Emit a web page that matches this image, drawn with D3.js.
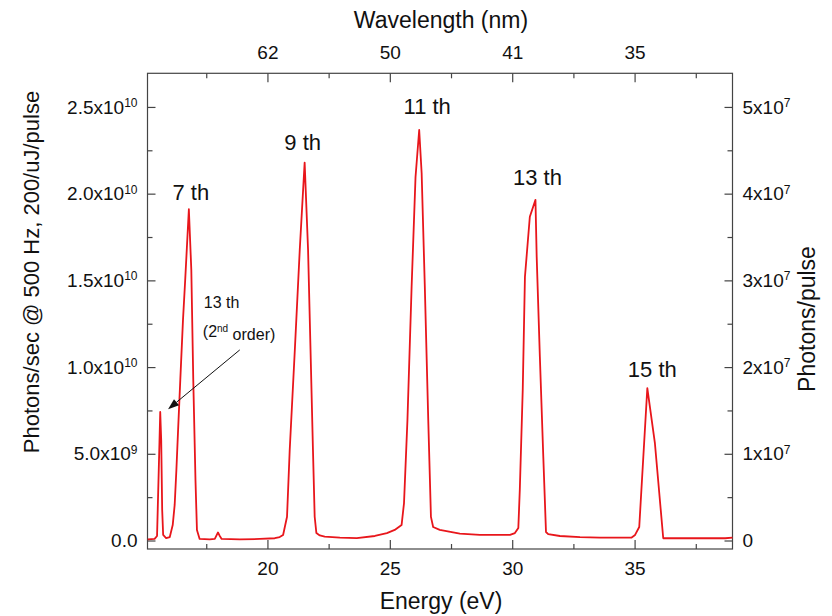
<!DOCTYPE html>
<html>
<head>
<meta charset="utf-8">
<script src="https://cdn.jsdelivr.net/npm/d3@7"></script>
<style>
  body { margin: 0; background: #fff; }
  text { font-family: Arial, "Liberation Sans", sans-serif; fill: #111; }
</style>
</head>
<body>
<div id="chart"></div>
<script>
// photon energy (eV) and flux (x1e10 photons/sec)
var energy = [15.11,15.39,15.49,15.56,15.62,15.66,15.70,15.74,15.86,16.01,
  16.13,16.21,16.28,16.35,16.44,16.55,16.64,16.79,16.89,16.97,
  17.06,17.12,17.23,17.64,17.85,17.93,17.98,18.04,18.13,18.87,
  19.69,20.30,20.50,20.64,20.80,20.91,21.12,21.32,21.52,21.66,
  21.76,21.86,21.93,22.00,22.14,22.34,22.96,23.65,24.39,24.88,
  25.20,25.48,25.58,25.72,25.89,26.05,26.20,26.30,26.43,26.57,
  26.68,26.77,27.04,27.86,28.68,29.91,30.11,30.25,30.31,30.43,
  30.52,30.72,30.95,31.00,31.13,31.27,31.38,31.47,31.95,32.77,
  33.59,34.88,35.02,35.19,35.52,35.83,36.17,37.67,38.70,39.00];
var flux = [0.006,0.009,0.026,0.407,0.741,0.580,0.176,0.032,0.014,0.020,
  0.089,0.205,0.407,0.638,0.926,1.272,1.502,1.910,1.560,0.926,
  0.349,0.061,0.009,0.006,0.009,0.032,0.046,0.029,0.009,0.006,
  0.009,0.013,0.020,0.032,0.137,0.522,1.101,1.675,2.179,1.675,
  1.101,0.522,0.137,0.043,0.029,0.022,0.017,0.014,0.026,0.043,
  0.061,0.089,0.216,0.695,1.462,2.096,2.367,2.119,1.462,0.695,
  0.136,0.078,0.061,0.040,0.032,0.032,0.043,0.072,0.291,0.868,
  1.520,1.867,1.964,1.637,1.060,0.483,0.049,0.037,0.026,0.020,
  0.017,0.017,0.032,0.078,0.878,0.561,0.013,0.013,0.013,0.017];

var harmonicLabels = ["7 th", "9 th", "11 th", "13 th", "15 th"];
var harmonicEnergy = [16.79, 21.52, 26.20, 30.95, 35.52];

var bottomTicks = [20, 25, 30, 35];
var bottomMinor = [17.5, 22.5, 27.5, 32.5, 37.5];
var topTickLabels = ["62", "50", "41", "35"];   // wavelength (nm) at 20/25/30/35 eV

var leftTicks = [0, 0.5, 1.0, 1.5, 2.0, 2.5];
var leftTickBase = ["0.0", "5.0x10", "1.0x10", "1.5x10", "2.0x10", "2.5x10"];
var leftTickExp = ["", "9", "10", "10", "10", "10"];
var leftMinor = [0.25, 0.75, 1.25, 1.75, 2.25];

var rightTicks = [0, 1, 2, 3, 4, 5];
var rightTickBase = ["0", "1x10", "2x10", "3x10", "4x10", "5x10"];
var rightTickExp = ["", "7", "7", "7", "7", "7"];
var rightMinor = [0.5, 1.5, 2.5, 3.5, 4.5];

var margin = { top: 73.3, right: 99.5, bottom: 67, left: 147.5 };
var width = 832 - margin.left - margin.right,
    height = 616 - margin.top - margin.bottom;

var svg = d3.select('#chart').append('svg')
  .attr('width', 832)
  .attr('height', 616);

var g = svg.append('g')
  .attr('transform', 'translate(' + margin.left + ',' + margin.top + ')');

var x = d3.scaleLinear().domain([15.1, 39.0]).range([0, width]);
var y = d3.scaleLinear().domain([-0.049, 2.694]).range([height, 0]);
// photons/pulse = photons/sec / 500 Hz, in units of 1e7
var yR = d3.scaleLinear().domain([-0.098, 5.388]).range([height, 0]);

var axisColor = '#444';

function styleAxis(sel) {
  sel.select('.domain').remove();
  sel.selectAll('.tick line').attr('stroke', axisColor).attr('stroke-width', 1.2);
  sel.selectAll('.tick text').style('font-size', '19px').attr('fill', '#111');
}

function supLabels(sel, base, exp) {
  sel.selectAll('.tick text').each(function(d, i) {
    var t = d3.select(this).text('');
    t.append('tspan').text(base[i]);
    if (exp[i]) {
      t.append('tspan').attr('dy', '-0.55em').style('font-size', '12px').text(exp[i]);
    }
  });
}

// bottom axis
g.append('g').attr('transform', 'translate(0,' + height + ')')
  .call(d3.axisBottom(x).tickValues(bottomMinor).tickSize(-5).tickFormat(''))
  .call(styleAxis);
g.append('g').attr('transform', 'translate(0,' + height + ')')
  .call(d3.axisBottom(x).tickValues(bottomTicks).tickSize(-9).tickPadding(12.5).tickFormat(d3.format('d')))
  .call(styleAxis);

// top axis (wavelength)
g.append('g')
  .call(d3.axisTop(x).tickValues(bottomMinor).tickSize(-5).tickFormat(''))
  .call(styleAxis);
g.append('g')
  .call(d3.axisTop(x).tickValues(bottomTicks).tickSize(-9).tickPadding(14)
    .tickFormat(function(d, i) { return topTickLabels[i]; }))
  .call(styleAxis);

// left axis
g.append('g')
  .call(d3.axisLeft(y).tickValues(leftMinor).tickSize(-5).tickFormat(''))
  .call(styleAxis);
g.append('g')
  .call(d3.axisLeft(y).tickValues(leftTicks).tickSize(-8).tickPadding(10))
  .call(styleAxis)
  .call(supLabels, leftTickBase, leftTickExp);

// right axis
g.append('g').attr('transform', 'translate(' + width + ',0)')
  .call(d3.axisRight(yR).tickValues(rightMinor).tickSize(-5).tickFormat(''))
  .call(styleAxis);
g.append('g').attr('transform', 'translate(' + width + ',0)')
  .call(d3.axisRight(yR).tickValues(rightTicks).tickSize(-8).tickPadding(10))
  .call(styleAxis)
  .call(supLabels, rightTickBase, rightTickExp);

// frame
g.append('rect')
  .attr('width', width).attr('height', height)
  .attr('fill', 'none').attr('stroke', axisColor).attr('stroke-width', 1.2);

// spectrum
var pts = energy.map(function(e, i) { return [e, flux[i]]; });
var line = d3.line()
  .x(function(d) { return x(d[0]); })
  .y(function(d) { return y(d[1]); });

g.append('path')
  .datum(pts)
  .attr('d', line)
  .attr('fill', 'none')
  .attr('stroke', '#e8161b')
  .attr('stroke-width', 1.8)
  .attr('stroke-linejoin', 'round');

// harmonic labels
var nudge = [[2, -9], [-2, -13], [8, -16], [2, -15], [5, -11]];
harmonicLabels.forEach(function(lab, i) {
  var k = energy.indexOf(harmonicEnergy[i]);
  g.append('text')
    .attr('x', x(harmonicEnergy[i]) + nudge[i][0])
    .attr('y', y(flux[k]) + nudge[i][1])
    .attr('text-anchor', 'middle')
    .style('font-size', '22px')
    .text(lab);
});

// 13th 2nd order annotation
var ann = g.append('text')
  .attr('x', x(17.40)).attr('y', y(1.341))
  .style('font-size', '16px')
  .text('13 th');
var ann2 = g.append('text')
  .attr('x', x(17.36)).attr('y', y(1.174))
  .style('font-size', '16px');
ann2.append('tspan').text('(2');
ann2.append('tspan').attr('dy', '-0.5em').style('font-size', '10px').text('nd');
ann2.append('tspan').attr('dy', '0.5em').text(' order)');

var x0 = x(18.87), y0 = y(1.099), x1 = x(15.94), y1 = y(0.757);
var ang = Math.atan2(y1 - y0, x1 - x0);
var hl = 11, hw = 4;
var bx = x1 - hl * Math.cos(ang), by = y1 - hl * Math.sin(ang);
g.append('line')
  .attr('x1', x0).attr('y1', y0).attr('x2', bx).attr('y2', by)
  .attr('stroke', '#111').attr('stroke-width', 1);
g.append('path')
  .attr('d', 'M' + x1 + ',' + y1 +
    'L' + (bx + hw * Math.sin(ang)) + ',' + (by - hw * Math.cos(ang)) +
    'L' + (bx - hw * Math.sin(ang)) + ',' + (by + hw * Math.cos(ang)) + 'Z')
  .attr('fill', '#111');

// axis titles
svg.append('text')
  .attr('x', 441).attr('y', 28)
  .attr('text-anchor', 'middle')
  .style('font-size', '23px')
  .text('Wavelength (nm)');
svg.append('text')
  .attr('x', 441).attr('y', 609)
  .attr('text-anchor', 'middle')
  .style('font-size', '23px')
  .text('Energy (eV)');
svg.append('text')
  .attr('transform', 'translate(39,272) rotate(-90)')
  .attr('text-anchor', 'middle')
  .style('font-size', '22px')
  .text('Photons/sec @ 500 Hz, 200/uJ/pulse');
svg.append('text')
  .attr('transform', 'translate(815,319) rotate(-90)')
  .attr('text-anchor', 'middle')
  .style('font-size', '23px')
  .text('Photons/pulse');
</script>
</body>
</html>
